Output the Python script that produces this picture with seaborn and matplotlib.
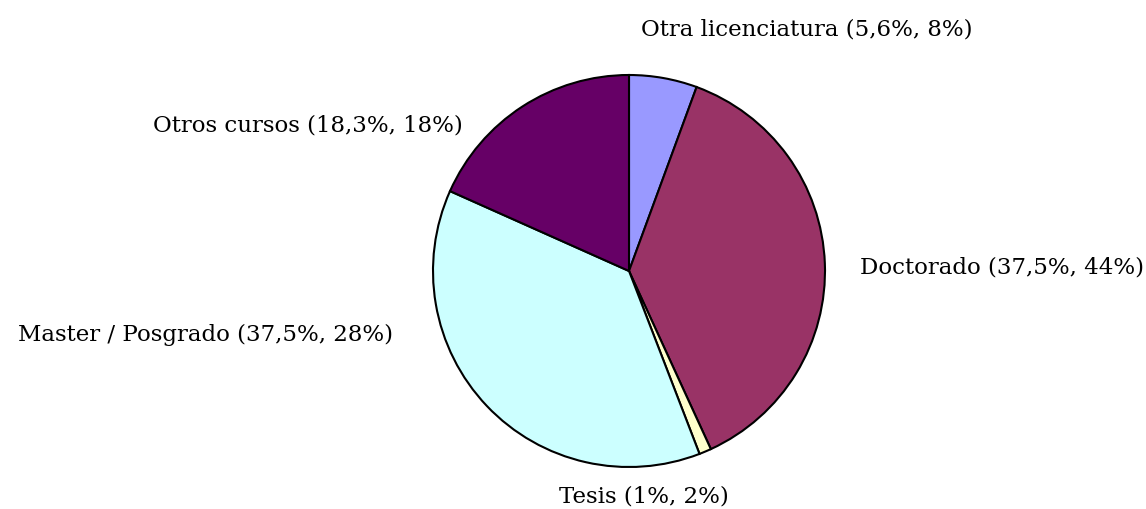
import numpy as np
import seaborn as sns
import matplotlib.pyplot as plt

categories = ["Otra licenciatura", "Doctorado", "Tesis", "Master / Posgrado", "Otros cursos"]
share_pct = [5.6, 37.5, 1.0, 37.5, 18.3]
other_pct = ["8%", "44%", "2%", "28%", "18%"]
slice_colors = ["#9999FF", "#993366", "#FFFFCC", "#CCFFFF", "#660066"]

sns.set_style("white")
plt.rcParams['font.family'] = ['DejaVu Serif']

fig = plt.figure(figsize=(11.46, 5.09), dpi=100)
# pie centre ~ (629, 271) px, radius ~196 px
ax = fig.add_axes([433 / 1146, 42 / 509, 392 / 1146, 392 / 509])
ax.pie(share_pct, colors=slice_colors, startangle=90, counterclock=False,
       wedgeprops=dict(edgecolor="black", linewidth=1.5), radius=1)
ax.set_xlim(-1, 1)
ax.set_ylim(-1, 1)
ax.set_aspect("equal")
ax.axis("off")

def fmt(v):
    s = f"{v:.1f}".replace(".", ",")
    if s.endswith(",0"):
        s = s[:-2]
    return s + "%"

labels = [f"{c} ({fmt(v)}, {o})" for c, v, o in zip(categories, share_pct, other_pct)]
label_pos = [(0.908, 1.23, "center"), (1.179, 0.02, "left"), (0.077, -1.153, "center"),
             (-1.204, -0.327, "right"), (-0.847, 0.74, "right")]
for lab, (x, y, ha) in zip(labels, label_pos):
    ax.text(x, y, lab, ha=ha, va="center", fontsize=16.5, color="black", clip_on=False)

fig.savefig("out.png", dpi=100, facecolor="white")
